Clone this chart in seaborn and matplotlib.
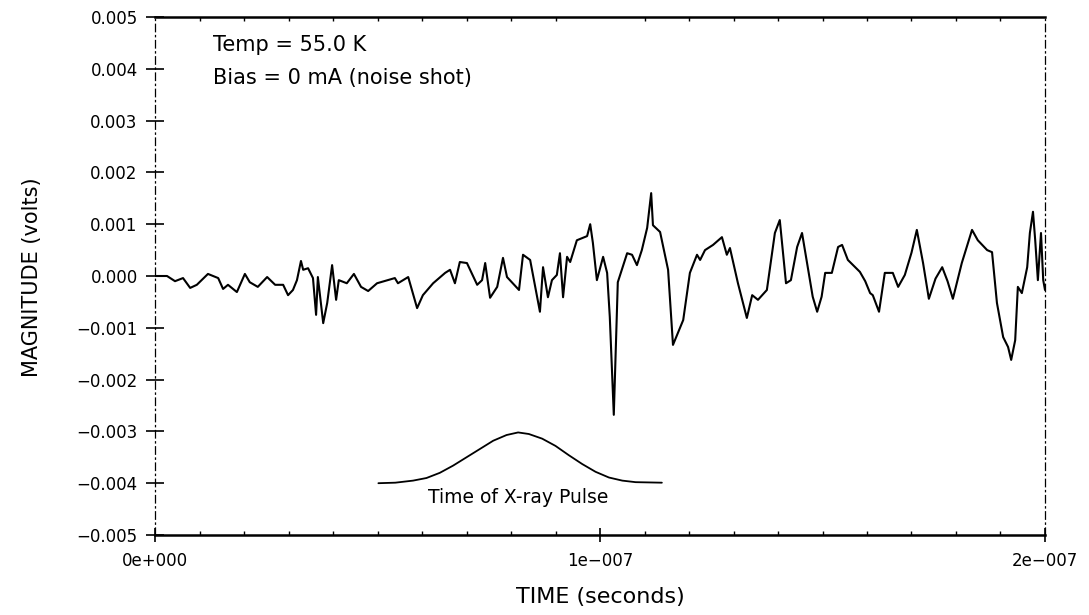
import numpy as np
import pandas as pd
import matplotlib
matplotlib.use("Agg")
import matplotlib.pyplot as plt
from matplotlib.ticker import MultipleLocator
import seaborn as sns

# ---- data (time in ns, magnitude in mV) ----
time_ns = [0.0, 2.7, 4.5, 6.3, 7.9, 9.4, 11.9, 14.2, 15.3, 16.4, 18.4, 20.2, 21.3,
           23.1, 25.2, 27.0, 28.8, 29.9, 31.0, 31.9, 32.8, 33.3, 34.4, 35.5, 36.2,
           36.6, 37.8, 38.7, 39.8, 40.7, 41.3, 43.1, 44.7, 46.3, 47.9, 49.9, 53.9,
           54.6, 56.9, 58.9, 60.2, 62.5, 65.2, 66.3, 67.4,
           68.5, 70.1, 72.4, 73.5, 74.2, 75.3, 76.9, 78.2, 79.1, 80.4, 81.8, 82.7,
           84.3, 86.5, 87.2, 88.3, 89.2, 90.3, 91.0, 91.7, 92.6, 93.3, 94.8, 97.1,
           97.8, 98.4, 99.3, 100.7, 101.6, 102.2, 103.1, 104.0, 106.1, 107.2, 108.3,
           109.4, 110.6, 111.5, 111.9, 113.5, 115.3, 116.4, 118.7, 120.2, 121.8,
           122.5, 123.6, 125.4, 127.4, 128.5, 129.2, 131.0, 133.0, 134.2, 135.5,
           137.5, 139.3, 140.4,
           141.8, 142.9, 144.3, 145.4, 146.7, 147.8, 148.8, 149.8, 150.6, 152.1,
           153.5, 154.4, 155.7, 157.0, 158.4, 159.6, 160.7, 161.3, 162.7, 164.0,
           165.8, 167.0, 168.5, 170.0, 171.2, 172.6, 173.9, 175.4, 176.9, 178.1,
           179.3, 181.3, 183.6, 184.9, 187.0, 188.1, 189.2, 190.6, 191.7, 192.4,
           193.3, 193.9, 194.8, 196.0, 196.6, 197.3, 197.8, 198.4, 199.1, 199.6,
           200.0]
magnitude_mV = [0.00, 0.00, -0.10, -0.04, -0.23, -0.17, 0.04, -0.04, -0.25, -0.17, -0.31, 0.04, -0.12,
                -0.21, -0.02, -0.17, -0.17, -0.37, -0.27, -0.08, 0.29, 0.12, 0.15, -0.04, -0.75,
                -0.02, -0.91, -0.52, 0.21, -0.46, -0.08, -0.14, 0.04, -0.21, -0.29, -0.14, -0.04,
                -0.14, -0.02, -0.62, -0.37, -0.14, 0.06, 0.12, -0.14,
                0.27, 0.25, -0.17, -0.08, 0.25, -0.42, -0.21, 0.35, -0.02, -0.14, -0.27, 0.41,
                0.31, -0.69, 0.17, -0.41, -0.08, 0.02, 0.44, -0.41, 0.37, 0.27, 0.69, 0.77,
                1.00, 0.64, -0.08, 0.37, 0.06, -0.79, -2.68, -0.12, 0.44, 0.41, 0.21,
                0.50, 0.93, 1.60, 0.98, 0.85, 0.12, -1.33, -0.85, 0.06, 0.41,
                0.31, 0.50, 0.60, 0.75, 0.41, 0.54, -0.14, -0.81, -0.37, -0.46,
                -0.27, 0.83, 1.08,
                -0.14, -0.08, 0.56, 0.83, 0.17, -0.40, -0.69, -0.40, 0.06, 0.06,
                0.56, 0.60, 0.31, 0.20, 0.08, -0.10, -0.33, -0.37, -0.69, 0.06,
                0.06, -0.21, 0.02, 0.45, 0.89, 0.25, -0.44, -0.05, 0.17, -0.10,
                -0.44, 0.25, 0.89, 0.69, 0.50, 0.46, -0.52, -1.18, -1.37, -1.62,
                -1.24, -0.21, -0.33, 0.17, 0.83, 1.24, 0.69, -0.08, 0.83, -0.08,
                -0.27]

pulse_time_ns = [50.2, 54.0, 58.0, 61.0, 64.0, 67.0, 70.0, 73.0, 76.0, 79.0, 81.6,
                 84.0, 87.0, 90.0, 93.0, 96.0, 99.0, 102.0, 105.0, 108.0, 113.9]
pulse_mV = [-4.00, -3.99, -3.95, -3.90, -3.80, -3.66, -3.50, -3.34, -3.18, -3.07, -3.02,
            -3.05, -3.14, -3.28, -3.46, -3.63, -3.78, -3.89, -3.95, -3.98, -3.99]

x_ticks = [0.0, 1e-7, 2e-7]
x_tick_labels = ["0e+000", "1e\u2212007", "2e\u2212007"]
y_ticks = [0.005, 0.004, 0.003, 0.002, 0.001, 0.0, -0.001, -0.002, -0.003, -0.004, -0.005]
y_tick_labels = ["0.005", "0.004", "0.003", "0.002", "0.001", "0.000",
                 "\u22120.001", "\u22120.002", "\u22120.003", "\u22120.004", "\u22120.005"]
annotation_lines = ["Temp = 55.0 K", "Bias = 0 mA (noise shot)"]
pulse_label = "Time of X-ray Pulse"
x_label = "TIME (seconds)"
y_label = "MAGNITUDE (volts)"

# ---- styling ----
sns.set_theme(style="white")
plt.rcParams['font.family'] = ['DejaVu Sans']
plt.rcParams['text.color'] = 'black'
plt.rcParams['axes.labelcolor'] = 'black'
plt.rcParams['xtick.color'] = 'black'
plt.rcParams['ytick.color'] = 'black'

W, H = 1089, 615
fig = plt.figure(figsize=(W / 100, H / 100), dpi=100)
fig.patch.set_facecolor("white")
ax = fig.add_axes([155 / W, 1 - 535 / H, 890 / W, 518 / H])
ax.set_facecolor("white")

trace = pd.DataFrame({"t": np.array(time_ns) * 1e-9, "v": np.array(magnitude_mV) * 1e-3})
pulse = pd.DataFrame({"t": np.array(pulse_time_ns) * 1e-9, "v": np.array(pulse_mV) * 1e-3})

sns.lineplot(data=trace, x="t", y="v", ax=ax, color="black", linewidth=1.5,
             estimator=None, sort=False)
sns.lineplot(data=pulse, x="t", y="v", ax=ax, color="black", linewidth=1.3,
             estimator=None, sort=False)

ax.set_xlim(0, 2e-7)
ax.set_ylim(-0.005, 0.005)

ax.set_xticks(x_ticks)
ax.set_xticklabels(x_tick_labels, fontsize=12)
ax.set_yticks(y_ticks)
ax.set_yticklabels(y_tick_labels, fontsize=12)
ax.xaxis.set_minor_locator(MultipleLocator(1e-8))

ax.tick_params(axis="y", which="major", direction="inout", length=13, width=1.2,
               left=True, right=False, pad=6, colors="black")
ax.tick_params(axis="x", which="major", direction="inout", length=10, width=1.2,
               bottom=True, top=False, pad=7, colors="black")
ax.tick_params(axis="x", which="minor", direction="in", length=3, width=1.0,
               bottom=True, top=True)

for side in ["top", "bottom"]:
    ax.spines[side].set_visible(True)
    ax.spines[side].set_color("black")
    ax.spines[side].set_linewidth(1.8)
for side in ["left", "right"]:
    ax.spines[side].set_visible(True)
    ax.spines[side].set_color("black")
    ax.spines[side].set_linewidth(0.9)
    ax.spines[side].set_linestyle((0, (6, 3, 1, 3)))

ax.set_xlabel(x_label, fontsize=16, color="black")
ax.xaxis.set_label_coords(0.5, -(597 - 535) / 518)
ax.xaxis.label.set_va("center")
ax.set_ylabel(y_label, fontsize=15, color="black")
ax.yaxis.set_label_coords((32 - 155) / 890, (535 - 277) / 518)
ax.yaxis.label.set_va("center")

ax.text(13e-9, 4.46e-3, annotation_lines[0], fontsize=15, ha="left", va="center", color="black")
ax.text(13e-9, 3.82e-3, annotation_lines[1], fontsize=15, ha="left", va="center", color="black")
ax.text(81.6e-9, -4.27e-3, pulse_label, fontsize=13.5, ha="center", va="center", color="black")

fig.savefig("out.png", dpi=100, facecolor="white")
